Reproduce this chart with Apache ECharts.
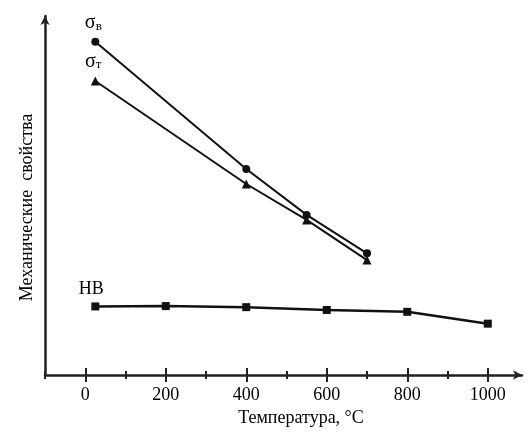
<!DOCTYPE html>
<html lang="ru">
<head>
	<meta charset="utf-8">
	<title>Механические свойства</title>
	<script src="https://cdn.jsdelivr.net/npm/echarts@6/dist/echarts.min.js"></script>
	<style>
		html, body { margin:0; padding:0; background:#fff; }
		#chart { width:532px; height:438px; }
	</style>
</head>
<body>
<div id="chart"></div>
<script>
// температура, °C
var tempSigma = [25, 400, 550, 700];
var tempHB = [25, 200, 400, 600, 800, 1000];
// условные единицы (шкала без подписей)
var sigmaB = [92.8, 57.4, 44.6, 33.9];
var sigmaT = [81.9, 53.2, 43.2, 32.0];
var hb = [19.1, 19.2, 18.9, 18.1, 17.6, 14.3];
var majorTicks = [0, 200, 400, 600, 800, 1000];
var minorTicks = [-100, 100, 300, 500, 700, 900];

function pairs(xs, ys) {
	return xs.map(function (x, i) { return [x, ys[i]]; });
}

var serif = 'Liberation Serif';
var axisColor = '#222';
var lineColor = '#111';

function tickAxis(values, len, inside, main) {
	return {
		type: 'value',
		position: 'bottom',
		min: -100,
		max: 1085,
		axisLine: main ? {
			show: true,
			onZero: false,
			symbol: ['none', 'arrow'],
			symbolSize: [7, 9],
			lineStyle: {color: axisColor, width: 2.5}
		} : {show: false, onZero: false},
		axisTick: {
			show: true,
			customValues: values,
			length: len,
			inside: inside,
			lineStyle: {color: axisColor, width: 2}
		},
		axisLabel: main ? {
			show: true,
			customValues: majorTicks,
			margin: 11,
			color: '#000',
			fontFamily: serif,
			fontSize: 18,
			formatter: function (v) { return String(v); }
		} : {show: false},
		splitLine: {show: false},
		name: main ? 'Температура, °С' : '',
		nameLocation: 'middle',
		nameGap: 33,
		nameTextStyle: {color: '#000', fontFamily: serif, fontSize: 18, padding: [0, 0, 0, 35]}
	};
}

function sigmaLabel(sub) {
	return {
		show: true,
		position: 'top',
		distance: 5,
		offset: [-2, 0],
		formatter: function (p) {
			return p.dataIndex === 0 ? '{s|σ}{b|' + sub + '}' : '';
		},
		rich: {
			s: {fontFamily: serif, fontSize: 20, color: '#000'},
			b: {fontFamily: serif, fontSize: 13, color: '#000', verticalAlign: 'bottom', padding: [6, 0, 0, 0]}
		}
	};
}

var chart = echarts.init(document.getElementById('chart'));
chart.setOption({
	animation: false,
	grid: {left: 45, right: 10, top: 16, bottom: 63},
	xAxis: [
		tickAxis(majorTicks, 7, false, true),
		tickAxis(majorTicks, 7, true, false),
		tickAxis(minorTicks, 4, false, false),
		tickAxis(minorTicks, 4, true, false)
	],
	yAxis: {
		type: 'value',
		min: 0,
		max: 100,
		axisLine: {
			show: true,
			onZero: false,
			symbol: ['none', 'arrow'],
			symbolSize: [7, 9],
			lineStyle: {color: axisColor, width: 2.5}
		},
		axisTick: {show: false},
		axisLabel: {show: false},
		splitLine: {show: false},
		name: 'Механические  свойства',
		nameLocation: 'middle',
		nameGap: 9,
		nameTextStyle: {color: '#000', fontFamily: serif, fontSize: 18, padding: [0, 24, 0, 0]}
	},
	series: [
		{
			name: 'σв',
			type: 'line',
			data: pairs(tempSigma, sigmaB),
			symbol: 'circle',
			symbolSize: 8,
			lineStyle: {color: lineColor, width: 2},
			itemStyle: {color: lineColor},
			label: sigmaLabel('в')
		},
		{
			name: 'σт',
			type: 'line',
			data: pairs(tempSigma, sigmaT),
			symbol: 'triangle',
			symbolSize: 9,
			lineStyle: {color: lineColor, width: 2},
			itemStyle: {color: lineColor},
			label: sigmaLabel('т')
		},
		{
			name: 'HB',
			type: 'line',
			data: pairs(tempHB, hb),
			symbol: 'rect',
			symbolSize: 8,
			lineStyle: {color: lineColor, width: 2.5},
			itemStyle: {color: lineColor},
			label: {
				show: true,
				position: 'top',
				distance: 4,
				offset: [-4, 0],
				fontFamily: serif,
				fontSize: 18,
				color: '#000',
				formatter: function (p) { return p.dataIndex === 0 ? 'HB' : ''; }
			}
		}
	]
});
</script>
</body>
</html>
